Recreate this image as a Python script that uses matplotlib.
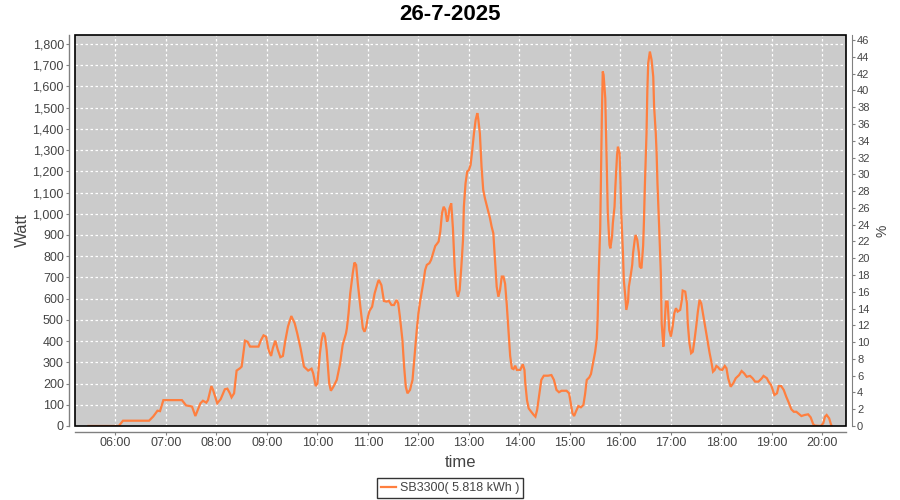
import matplotlib
matplotlib.use("Agg")
import matplotlib.pyplot as plt
from matplotlib.ticker import FuncFormatter, FixedLocator
from matplotlib.patches import Rectangle

title = "26-7-2025"
series_name = "SB3300( 5.818 kWh )"

times = [
    "05:28", "06:04", "06:09", "06:40", "06:45", "06:50", "06:53", "06:57", "07:19", "07:24",
    "07:31", "07:35", "07:41", "07:44", "07:48", "07:50", "07:54", "07:56", "08:01", "08:05",
    "08:10", "08:13", "08:16", "08:18", "08:21", "08:24", "08:28", "08:30", "08:34", "08:37",
    "08:40", "08:44", "08:50", "08:53", "08:56", "08:59", "09:02", "09:05", "09:07", "09:10",
    "09:13", "09:16", "09:19", "09:22", "09:25", "09:29", "09:33", "09:36", "09:40", "09:44",
    "09:49", "09:53", "09:55", "09:58", "10:00", "10:03", "10:05", "10:07", "10:09", "10:11",
    "10:14", "10:16", "10:19", "10:23", "10:27", "10:30", "10:34", "10:35", "10:37", "10:39",
    "10:42", "10:44", "10:46", "10:48", "10:51", "10:54", "10:56", "10:58", "11:00", "11:02",
    "11:05", "11:08", "11:12", "11:13", "11:16", "11:19", "11:22", "11:25", "11:28", "11:31",
    "11:34", "11:36", "11:38", "11:41", "11:43", "11:45", "11:47", "11:50", "11:53", "11:55",
    "11:58", "12:00", "12:02", "12:04", "12:06", "12:08", "12:10", "12:13", "12:15", "12:18",
    "12:20", "12:22", "12:24", "12:26", "12:28", "12:30", "12:32", "12:34", "12:35", "12:37",
    "12:39", "12:41", "12:43", "12:45", "12:47", "12:49", "12:51", "12:53", "12:54", "12:56",
    "12:58", "13:00", "13:02", "13:04", "13:06", "13:08", "13:10", "13:11", "13:13", "13:15",
    "13:17", "13:19", "13:21", "13:23", "13:25", "13:27", "13:29", "13:31", "13:33", "13:35",
    "13:37", "13:39", "13:41", "13:43", "13:45", "13:47", "13:49", "13:51", "13:53", "13:55",
    "13:57", "14:01", "14:04", "14:06", "14:07", "14:09", "14:11", "14:14", "14:17", "14:19",
    "14:21", "14:24", "14:26", "14:29", "14:34", "14:38", "14:41", "14:44", "14:47", "14:50",
    "14:56", "14:59", "15:01", "15:03", "15:05", "15:07", "15:10", "15:13", "15:16", "15:18",
    "15:20", "15:23", "15:25", "15:27", "15:30", "15:32", "15:33", "15:34", "15:36", "15:37",
    "15:38", "15:39", "15:40", "15:42", "15:43", "15:44", "15:45", "15:47", "15:48", "15:50",
    "15:51", "15:53", "15:54", "15:55", "15:56", "15:57", "15:59", "16:00", "16:01", "16:03",
    "16:04", "16:06", "16:07", "16:09", "16:10", "16:12", "16:14", "16:15", "16:17", "16:18",
    "16:20", "16:22", "16:23", "16:25", "16:27", "16:28", "16:29", "16:31", "16:32", "16:33",
    "16:35", "16:37", "16:39", "16:40", "16:42", "16:43", "16:44", "16:46", "16:48", "16:49",
    "16:51", "16:52", "16:54", "16:56", "16:58", "17:00", "17:02", "17:04", "17:06", "17:08",
    "17:11", "17:13", "17:14", "17:17", "17:19", "17:20", "17:22", "17:24", "17:26", "17:28",
    "17:30", "17:32", "17:34", "17:36", "17:38", "17:40", "17:42", "17:44", "17:46", "17:48",
    "17:50", "17:52", "17:54", "17:56", "17:58", "18:01", "18:04", "18:06", "18:08", "18:11",
    "18:14", "18:17", "18:21", "18:24", "18:27", "18:30", "18:34", "18:37", "18:40", "18:44",
    "18:48", "18:50", "18:54", "18:56", "18:59", "19:01", "19:03", "19:06", "19:08", "19:11",
    "19:14", "19:17", "19:20", "19:23", "19:26", "19:29", "19:32", "19:35", "19:39", "19:43",
    "19:46", "19:49", "19:51", "19:58", "20:01", "20:03", "20:05", "20:08", "20:10", "20:11",
]

watts = [
    0, 0, 25, 25, 45, 72, 70, 122, 122, 97,
    92, 47, 107, 119, 110, 122, 188, 170, 107, 126,
    173, 176, 154, 135, 154, 261, 272, 280, 402, 397,
    374, 374, 374, 405, 427, 421, 358, 330, 366, 402,
    358, 324, 330, 405, 468, 518, 484, 437, 366, 280,
    261, 270, 248, 188, 200, 343, 405, 440, 421, 358,
    201, 166, 185, 217, 295, 382, 437, 460, 531, 625,
    720, 770, 759, 672, 562, 460, 444, 468, 515, 543,
    562, 625, 680, 688, 664, 589, 586, 589, 570, 570,
    594, 578, 515, 405, 280, 185, 154, 170, 217, 311,
    450, 531, 586, 633, 680, 735, 759, 767, 782, 821,
    848, 858, 869, 916, 1002, 1033, 1018, 963, 971, 1026,
    1049, 932, 751, 641, 609, 641, 751, 877, 1033, 1144,
    1199, 1206, 1230, 1301, 1379, 1442, 1474, 1450, 1379, 1222,
    1112, 1073, 1041, 1010, 979, 939, 908, 782, 656, 609,
    641, 704, 704, 670, 570, 452, 330, 272, 268, 284,
    264, 264, 291, 264, 201, 122, 83, 67, 52, 44,
    75, 162, 217, 237, 237, 240, 217, 170, 159, 166,
    166, 154, 107, 60, 47, 67, 94, 88, 99, 150,
    217, 229, 245, 287, 350, 413, 515, 688, 932, 1222,
    1474, 1670, 1654, 1544, 1356, 1159, 1002, 853, 837, 892,
    955, 1033, 1128, 1206, 1277, 1316, 1285, 1159, 1002, 814,
    688, 602, 547, 586, 656, 704, 759, 814, 877, 900,
    877, 814, 751, 743, 850, 971, 1128, 1379, 1583, 1709,
    1764, 1725, 1646, 1505, 1379, 1285, 1144, 939, 720, 484,
    374, 437, 586, 586, 452, 421, 468, 531, 555, 539,
    547, 594, 638, 633, 578, 484, 390, 343, 350, 405,
    468, 539, 594, 578, 531, 484, 437, 390, 343, 303,
    256, 264, 283, 277, 267, 264, 283, 272, 225, 185,
    201, 225, 240, 259, 248, 232, 236, 225, 209, 209,
    225, 236, 225, 209, 193, 170, 146, 154, 188, 188,
    170, 138, 110, 79, 67, 67, 57, 47, 52, 55,
    41, 9, 2, 0, 13, 44, 52, 36, 9, 0,
]

hour_ticks = ["06:00", "07:00", "08:00", "09:00", "10:00", "11:00", "12:00", "13:00",
              "14:00", "15:00", "16:00", "17:00", "18:00", "19:00", "20:00"]
x_range = ("05:12", "20:28")
watt_ticks = list(range(0, 1801, 100))
pct_ticks = list(range(0, 47, 2))


def to_hours(s):
    h, m = s.split(":")
    return int(h) + int(m) / 60.0


xs = [to_hours(t) for t in times]
tick_x = [to_hours(t) for t in hour_ticks]

plt.rcParams['font.family'] = ['Liberation Sans', 'DejaVu Sans']

fig = plt.figure(figsize=(9, 5), dpi=100)
fig.patch.set_facecolor('white')
ax = fig.add_axes([75 / 900, 1 - 426 / 500, (846 - 75) / 900, (426 - 35) / 500])
ax.set_facecolor('#cbcbcb')

line_color = '#ff7f3f'
ax.plot(xs, watts, color=line_color, lw=1.6, label=series_name, solid_joinstyle='miter')

ax.set_xlim(to_hours(x_range[0]), to_hours(x_range[1]))
ax.set_ylim(0, 1842)

ax.xaxis.set_major_locator(FixedLocator(tick_x))
ax.set_xticklabels(hour_ticks)
ax.yaxis.set_major_locator(FixedLocator(watt_ticks))
ax.yaxis.set_major_formatter(FuncFormatter(lambda v, p: f"{int(v):,}"))

ax.grid(True, color='white', linestyle=(0, (2, 2)), linewidth=0.9)
ax.set_axisbelow(True)

grey = '#808080'
txt = '#444444'
for side in ['top', 'right']:
    ax.spines[side].set_visible(False)
for side in ['left', 'bottom']:
    ax.spines[side].set_position(('outward', 4))
    ax.spines[side].set_color(grey)
    ax.spines[side].set_linewidth(1)

ax.tick_params(axis='both', direction='out', length=2, width=0.8, color=grey,
               labelsize=9, labelcolor=txt, pad=2)

border = Rectangle((0, 0), 1, 1, transform=ax.transAxes, fill=False,
                   edgecolor='black', linewidth=1.2, clip_on=False, zorder=5)
ax.add_patch(border)

ax2 = ax.twinx()
ax2.set_ylim(0, 46.6)
ax2.yaxis.set_major_locator(FixedLocator(pct_ticks))
for side in ['top', 'left', 'bottom']:
    ax2.spines[side].set_visible(False)
ax2.spines['right'].set_position(('outward', 4))
ax2.spines['right'].set_color(grey)
ax2.tick_params(axis='y', direction='out', length=2, width=0.8, color=grey,
                labelsize=8, labelcolor=txt, pad=2)

ax.set_ylabel("Watt", fontsize=12, color=txt, labelpad=2)
ax2.set_ylabel("%", fontsize=10, color=txt, labelpad=4)
ax.set_xlabel("time", fontsize=12, color=txt, labelpad=4)

fig.text(0.5, 1 - 15 / 500, title, ha='center', va='center', fontsize=16,
         fontweight='bold', color='black')

leg = fig.legend(loc='center', bbox_to_anchor=(0.5, 1 - 488 / 500), ncol=1,
                 fontsize=9, frameon=True, fancybox=False, handlelength=1.2,
                 handletextpad=0.3, borderpad=0.3, borderaxespad=0)
leg.get_frame().set_edgecolor('black')
leg.get_frame().set_linewidth(1)
for t in leg.get_texts():
    t.set_color(txt)

fig.savefig("out.png", dpi=100)
